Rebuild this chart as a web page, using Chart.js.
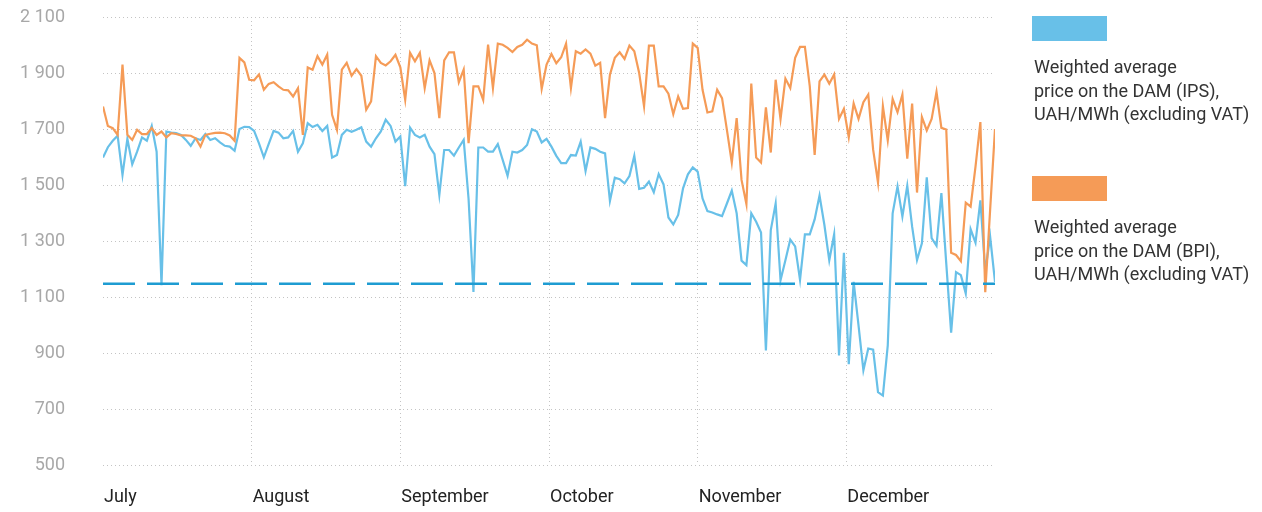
<!DOCTYPE html>
<html>
<head>
<meta charset="utf-8">
<script src="https://cdn.jsdelivr.net/npm/chart.js@4.4.1/dist/chart.umd.min.js"></script>
<style>
  html, body { margin: 0; padding: 0; background: #ffffff; }
  #wrap { position: relative; width: 1262px; height: 512px; overflow: hidden; }
  #c { position: absolute; left: 0; top: 0; }
  .lg-box { position: absolute; left: 1032px; width: 75px; height: 25px; }
  .lg-text { position: absolute; left: 1034px; font-family: Roboto, sans-serif; font-size: 18px; line-height: 23.5px; color: #333333; white-space: nowrap; }
</style>
</head>
<body>
<div id="wrap">
  <canvas id="c" width="1262" height="512"></canvas>
  <div class="lg-box" style="top:16px;background:#68C0E8;"></div>
  <div class="lg-text" style="top:55px;">Weighted average<br>price on the DAM (IPS),<br>UAH/MWh (excluding VAT)</div>
  <div class="lg-box" style="top:176px;background:#F59B57;"></div>
  <div class="lg-text" style="top:215px;">Weighted average<br>price on the DAM (BPI),<br>UAH/MWh (excluding VAT)</div>
</div>
<script>
// Daily values, 1 July – 31 December
const ipsPrice = [
  1598,1635,1658,1676,1536,1665,1574,1619,1670,1658,1711,1619,1142,1691,1687,1685,1679,1661,1640,1667,
  1661,1682,1661,1667,1652,1640,1637,1622,1700,1708,1707,1693,1649,1599,1647,1693,1687,1667,1670,1693,
  1619,1649,1721,1707,1715,1693,1711,1598,1607,1679,1697,1690,1697,1706,1655,1637,1667,1691,1733,1711,
  1655,1673,1496,1705,1679,1670,1679,1637,1610,1464,1625,1625,1605,1634,1661,1450,1118,1634,1634,1619,
  1619,1646,1590,1533,1619,1616,1625,1643,1699,1691,1652,1665,1637,1604,1578,1578,1607,1605,1655,1550,
  1634,1629,1619,1613,1443,1526,1521,1506,1532,1604,1486,1490,1512,1474,1539,1502,1384,1359,1393,1488,
  1538,1563,1548,1452,1407,1402,1395,1389,1434,1480,1399,1230,1214,1399,1369,1330,909,1339,1434,1160,
  1231,1305,1281,1161,1324,1324,1377,1462,1357,1231,1324,891,1258,860,1154,999,838,916,912,760,
  748,927,1399,1495,1387,1497,1351,1232,1292,1527,1310,1283,1471,1220,973,1189,1178,1113,1342,1294,
  1445,1190,1316,1154
];
const bpiPrice = [
  1780,1711,1703,1679,1930,1679,1661,1697,1682,1682,1703,1679,1691,1670,1685,1682,1677,1677,1676,1667,
  1637,1679,1683,1686,1687,1685,1677,1658,1954,1938,1876,1874,1895,1840,1861,1867,1852,1840,1838,1816,
  1846,1679,1920,1912,1960,1930,1966,1751,1697,1912,1936,1890,1914,1890,1769,1799,1960,1936,1927,1942,
  1965,1920,1804,1972,1942,1972,1846,1945,1900,1739,1945,1974,1974,1867,1912,1649,1852,1852,1804,2001,
  1846,2005,2001,1990,1975,1993,2001,2019,2005,1999,1843,1930,1968,1935,1956,2005,1846,1978,1969,1984,
  1969,1926,1936,1739,1894,1954,1974,1950,1998,1978,1900,1781,1998,1998,1852,1852,1826,1753,1816,1772,
  1775,2005,1990,1840,1759,1763,1840,1810,1697,1580,1739,1518,1432,1862,1598,1580,1777,1616,1876,1735,
  1880,1846,1954,1993,1993,1852,1607,1870,1894,1862,1895,1736,1772,1671,1791,1736,1796,1823,1626,1509,
  1781,1659,1807,1760,1823,1594,1791,1473,1743,1695,1736,1833,1704,1698,1258,1250,1228,1437,1423,1566,
  1725,1117,1411,1700
];
const referenceLevel = 1147;
const monthLabels = ['July','August','September','October','November','December'];
const monthTicks = [0, 30.5, 61, 91.5, 122, 152.5];
const yTicks = [500, 700, 900, 1100, 1300, 1500, 1700, 1900, 2100];

const lastIndex = ipsPrice.length - 1;
const toXY = arr => arr.map((v, i) => ({ x: i, y: v }));
const fmt = v => String(v).replace(/\B(?=(\d{3})+(?!\d))/g, ' ');

Chart.defaults.font.family = 'Roboto, sans-serif';

new Chart(document.getElementById('c'), {
  type: 'line',
  data: {
    datasets: [
      {
        label: 'reference',
        data: [{ x: 0, y: referenceLevel }, { x: lastIndex, y: referenceLevel }],
        borderColor: '#1E9CD2',
        borderWidth: 2.5,
        borderDash: [32, 12],
        pointRadius: 0,
        order: 0
      },
      {
        label: 'BPI',
        data: toXY(bpiPrice),
        borderColor: '#F59B57',
        borderWidth: 2.2,
        pointRadius: 0,
        tension: 0,
        order: 1
      },
      {
        label: 'IPS',
        data: toXY(ipsPrice),
        borderColor: '#68C0E8',
        borderWidth: 2.2,
        pointRadius: 0,
        tension: 0,
        order: 2
      }
    ]
  },
  options: {
    responsive: false,
    animation: false,
    devicePixelRatio: 1,
    layout: { padding: { top: 17, right: 267, bottom: 0, left: 0 } },
    plugins: { legend: { display: false }, tooltip: { enabled: false } },
    scales: {
      x: {
        type: 'linear',
        min: 0,
        max: lastIndex,
        afterBuildTicks: s => { s.ticks = monthTicks.map(v => ({ value: v })); },
        afterFit: s => { s.height = 47; },
        ticks: {
          align: 'start',
          padding: 22,
          labelOffset: 1,
          color: '#222222',
          font: { size: 18 },
          maxRotation: 0,
          autoSkip: false,
          callback: (v, i) => monthLabels[i]
        },
        grid: {
          drawTicks: false,
          color: c => (c.tick && c.tick.value === 0) ? 'rgba(0,0,0,0)' : '#c4c4c4',
          lineWidth: 1
        },
        border: { display: false, dash: [1, 3] }
      },
      y: {
        min: 500,
        max: 2100,
        afterBuildTicks: s => { s.ticks = yTicks.map(v => ({ value: v })); },
        afterFit: s => { s.width = 103; },
        ticks: {
          padding: 0,
          color: '#a8a8a8',
          font: { size: 18 },
          callback: v => fmt(v)
        },
        grid: { drawTicks: true, tickLength: 38, tickColor: 'rgba(0,0,0,0)', color: '#c4c4c4', lineWidth: 1 },
        border: { display: false, dash: [1, 3] }
      }
    }
  }
});
</script>
</body>
</html>
